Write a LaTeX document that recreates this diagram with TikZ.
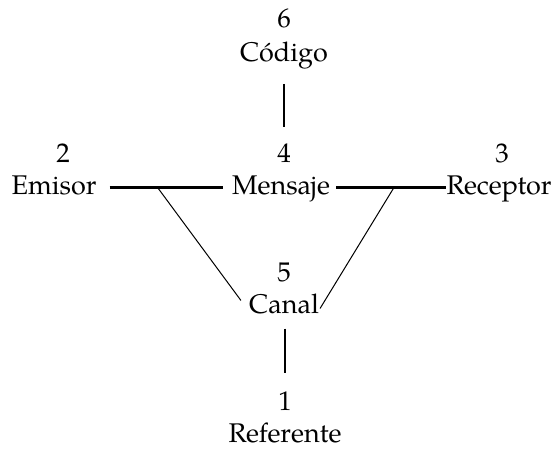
\documentclass[tikz,border=0pt]{standalone}
\usepackage{fontspec}
\setmainfont{TeX Gyre Pagella}
\usetikzlibrary{calc}
\begin{document}
\begin{tikzpicture}[x=1pt,y=-1pt,
  lbl/.style={font=\fontsize{27}{32}\selectfont, anchor=base, inner sep=0pt},
  thickline/.style={line width=2.2pt},
  thinline/.style={line width=1pt}]
\useasboundingbox (0,0) rectangle (560,449);
\node[lbl] (n6) at (284,28) {6};
\node[lbl] (codigo) at (284,62) {Código};
\node[lbl] (n2) at (63,163) {2};
\node[lbl] (emisor) at (54,195) {Emisor};
\node[lbl] (n4) at (284,163) {4};
\node[lbl] (mensaje) at (281,195) {Mensaje};
\node[lbl] (n3) at (502,163) {3};
\node[lbl] (receptor) at (499,195) {Receptor};
\node[lbl] (n5) at (284,282) {5};
\node[lbl] (canal) at (284,314) {Canal};
\node[lbl] (n1) at (285,410) {1};
\node[lbl] (referente) at (285,442) {Referente};
% connectors
\draw[thickline] ($(codigo.south)+(0,14)$) -- ($(codigo.south |- n4.north)+(0,-17)$);
\draw[thickline] ($(emisor.east)+(13,1.5)$) -- ($(mensaje.west |- emisor.east)+(-9,1.5)$);
\draw[thickline] ($(mensaje.east |- emisor.east)+(6,1.5)$) -- ($(receptor.west |- emisor.east)+(0,1.5)$);
\coordinate (l1) at ($(emisor.east)!0.45!(mensaje.west |- emisor.east)+(0,1.5)$);
\coordinate (r1) at ($(mensaje.east |- emisor.east)!0.55!(receptor.west |- emisor.east)+(0,1.5)$);
\draw[thinline] (l1) -- ($(canal.west)+(-8,-4)$);
\draw[thinline] (r1) -- ($(canal.east)+(1,4)$);
\draw[thickline] ($(canal.south)+(1,14)$) -- ($(canal.south |- n1.north)+(1,-18)$);
\end{tikzpicture}
\end{document}
